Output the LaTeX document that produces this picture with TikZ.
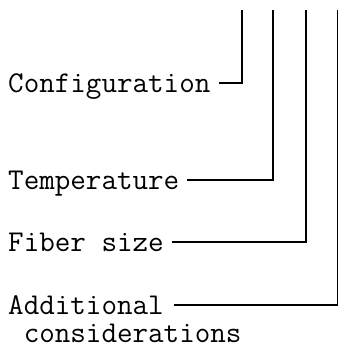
\documentclass[tikz,border=0pt]{standalone}
\begin{document}
\begin{tikzpicture}[x=1pt,y=-1pt,
  lbl/.style={inner sep=0pt,anchor=base west,font=\ttfamily\fontsize{30.2}{33}\selectfont},
  conn/.style={line width=1.6pt}]
\useasboundingbox (0,0) rectangle (339,351);
\node[lbl] (conf) at (8,92) {Configuration};
\node[lbl] (temp) at (8,189) {Temperature};
\node[lbl] (fib) at (8,251) {Fiber size};
\node[lbl] (add) at (8,314) {Additional};
\node[lbl] (cons) at (8,342) {\ considerations};
\coordinate (t1) at (242,10);
\coordinate (t2) at (273,10);
\coordinate (t3) at (306,10);
\coordinate (t4) at (337.5,10);
\draw[conn] ([xshift=8pt,yshift=9pt]conf.base east) -| (t1);
\draw[conn] ([xshift=8pt,yshift=9pt]temp.base east) -| (t2);
\draw[conn] ([xshift=8pt,yshift=9pt]fib.base east) -| (t3);
\draw[conn] ([xshift=10pt,yshift=9pt]add.base east) -| (t4);
\end{tikzpicture}
\end{document}
